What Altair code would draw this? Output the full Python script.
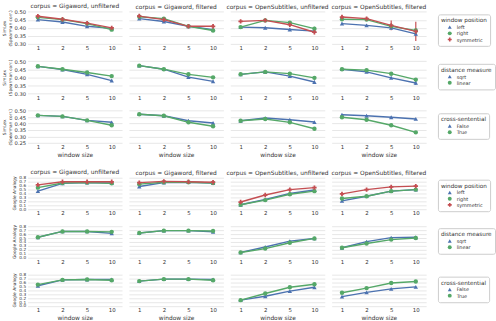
import altair as alt
import pandas as pd

WINDOWS = ["1", "2", "5", "10"]
CORPORA = ["Gigaword, unfiltered", "Gigaword, filtered",
           "OpenSubtitles, unfiltered", "OpenSubtitles, filtered"]

POS_LABELS = ["left", "right", "symmetric"]
DIST_LABELS = ["sqrt", "linear"]
CROSS_LABELS = ["False", "True"]

# ---- SimLex, by window position (one list per corpus, values per window size)
SL_POS_LEFT = [[0.452, 0.437, 0.410, 0.397], [0.458, 0.440, 0.410, 0.389],
               [0.405, 0.401, 0.390, 0.380], [0.427, 0.416, 0.400, 0.363]]
SL_POS_RIGHT = [[0.466, 0.452, 0.427, 0.389], [0.470, 0.458, 0.410, 0.384],
                [0.405, 0.447, 0.433, 0.395], [0.454, 0.452, 0.410, 0.384]]
SL_POS_SYM = [[0.473, 0.454, 0.430, 0.400], [0.474, 0.452, 0.410, 0.410],
              [0.441, 0.447, 0.420, 0.373], [0.468, 0.458, 0.416, 0.378]]
SL_POS_LEFT_ERR = [[0.004, 0.004, 0.004, 0.006], [0.004, 0.004, 0.004, 0.006],
                   [0.005, 0.005, 0.006, 0.010], [0.006, 0.006, 0.008, 0.015]]
SL_POS_RIGHT_ERR = [[0.004, 0.004, 0.004, 0.006], [0.004, 0.004, 0.004, 0.006],
                    [0.005, 0.005, 0.006, 0.012], [0.008, 0.008, 0.010, 0.015]]
SL_POS_SYM_ERR = [[0.004, 0.004, 0.004, 0.006], [0.004, 0.004, 0.004, 0.006],
                  [0.005, 0.006, 0.008, 0.012], [0.010, 0.010, 0.030, 0.060]]

# ---- SimLex, by distance measure
SL_DIST_SQRT = [[0.469, 0.449, 0.419, 0.380], [0.473, 0.451, 0.401, 0.375],
                [0.419, 0.434, 0.408, 0.371], [0.451, 0.434, 0.397, 0.365]]
SL_DIST_LIN = [[0.469, 0.451, 0.430, 0.408], [0.473, 0.451, 0.419, 0.400],
               [0.419, 0.434, 0.423, 0.397], [0.451, 0.445, 0.423, 0.386]]
SL_DIST_SQRT_ERR = [[0.004, 0.004, 0.004, 0.006], [0.004, 0.004, 0.004, 0.006],
                    [0.005, 0.005, 0.006, 0.008], [0.005, 0.005, 0.008, 0.012]]
SL_DIST_LIN_ERR = [[0.004, 0.004, 0.004, 0.006], [0.004, 0.004, 0.004, 0.006],
                   [0.005, 0.005, 0.006, 0.008], [0.005, 0.005, 0.008, 0.010]]

# ---- SimLex, by cross-sentential
SL_CROSS_F = [[0.464, 0.456, 0.425, 0.410], [0.473, 0.461, 0.422, 0.405],
              [0.422, 0.443, 0.430, 0.412], [0.469, 0.461, 0.449, 0.436]]
SL_CROSS_T = [[0.464, 0.456, 0.425, 0.387], [0.473, 0.461, 0.410, 0.379],
              [0.422, 0.436, 0.410, 0.360], [0.449, 0.430, 0.387, 0.332]]

# ---- Google Analogy, by window position
GA_POS_LEFT = [[0.46, 0.66, 0.68, 0.67], [0.58, 0.68, 0.69, 0.67],
               [0.11, 0.25, 0.40, 0.49], [0.21, 0.33, 0.46, 0.50]]
GA_POS_RIGHT = [[0.55, 0.67, 0.68, 0.66], [0.64, 0.69, 0.69, 0.67],
                [0.11, 0.23, 0.38, 0.46], [0.27, 0.33, 0.46, 0.50]]
GA_POS_SYM = [[0.62, 0.70, 0.70, 0.70], [0.68, 0.71, 0.70, 0.69],
              [0.18, 0.36, 0.50, 0.55], [0.39, 0.50, 0.57, 0.59]]

# ---- Google Analogy, by distance measure
GA_DIST_SQRT = [[0.52, 0.67, 0.67, 0.62], [0.63, 0.69, 0.69, 0.66],
                [0.13, 0.27, 0.42, 0.49], [0.25, 0.41, 0.51, 0.52]]
GA_DIST_LIN = [[0.52, 0.67, 0.67, 0.66], [0.63, 0.69, 0.69, 0.68],
               [0.13, 0.23, 0.38, 0.49], [0.25, 0.36, 0.46, 0.50]]

# ---- Google Analogy, by cross-sentential
GA_CROSS_F = [[0.52, 0.67, 0.68, 0.68], [0.64, 0.69, 0.69, 0.68],
              [0.15, 0.25, 0.38, 0.48], [0.24, 0.35, 0.44, 0.49]]
GA_CROSS_T = [[0.55, 0.67, 0.68, 0.66], [0.64, 0.69, 0.69, 0.66],
              [0.15, 0.32, 0.48, 0.56], [0.34, 0.46, 0.59, 0.63]]

SL_TICKS = [0.30, 0.35, 0.40, 0.45, 0.50]
SL3_TICKS = [0.25, 0.30, 0.35, 0.40, 0.45, 0.50]
GA_TICKS = [0.0, 0.1, 0.2, 0.3, 0.4, 0.5, 0.6, 0.7, 0.8]

BLUE, GREEN, RED = "#4C72B0", "#55A868", "#C44E52"
FONT = "DejaVu Sans"
TEXT = "#333333"
PANEL_W = 96


def make_df(labels, series, errs):
    recs = []
    for k, lab in enumerate(labels):
        vals = series[k]
        ev = errs[k] if errs else None
        for ci, corpus in enumerate(CORPORA):
            for wi, w in enumerate(WINDOWS):
                v = vals[ci][wi]
                e = ev[ci][wi] if ev else 0.0
                recs.append(dict(series=lab, corpus=corpus, window=w,
                                 value=v, lo=v - e, hi=v + e))
    return pd.DataFrame(recs)


def panel(df, ci, labels, colors, shapes, legend_title, ydomain, yticks,
          yfmt, ytitle, height, first_row, last_row, ylabel_size):
    corpus = CORPORA[ci]
    base = alt.Chart(df).transform_filter(alt.datum.corpus == corpus)

    xaxis_kw = dict(labelAngle=0, grid=False, domain=False, ticks=False,
                    tickSize=0, labelPadding=1.5, labelFontSize=5.5,
                    labelColor=TEXT, titleFontSize=6, titleColor=TEXT,
                    titleFontWeight="normal", titlePadding=1.5)
    xaxis_kw["title"] = "window size" if last_row else ""
    x = alt.X("window:O", sort=WINDOWS,
              scale=alt.Scale(type="point", padding=0.42),
              axis=alt.Axis(**xaxis_kw))

    yaxis_kw = dict(values=yticks, tickCount=len(yticks) + 5, grid=True,
                    gridColor="#e0e0e0", gridWidth=0.8, domain=False,
                    ticks=False, tickSize=0, labelPadding=2,
                    labelFontSize=ylabel_size, labelColor=TEXT, format=yfmt,
                    labelOverlap=False, titleFontSize=4.4, titleColor=TEXT,
                    titleFontWeight="normal", titlePadding=2,
                    titleLineHeight=5.2, labels=(ci == 0))
    yaxis_kw["title"] = ytitle if ci == 0 else ""
    y = alt.Y("value:Q",
              scale=alt.Scale(domain=ydomain, nice=False, zero=False),
              axis=alt.Axis(**yaxis_kw))

    cscale = alt.Scale(domain=labels, range=colors)
    sscale = alt.Scale(domain=labels, range=shapes)
    if ci == 3:
        leg = alt.Legend(title=legend_title, orient="none", legendX=108,
                         legendY=3, padding=3, strokeColor="#cccccc",
                         cornerRadius=2, fillColor="white", titleFontSize=5.8,
                         titleFontWeight="normal", titleColor=TEXT,
                         labelFontSize=5, labelColor=TEXT, symbolSize=16,
                         rowPadding=0.3, titlePadding=1.2, labelOffset=4,
                         symbolOffset=6)
        color = alt.Color("series:N", scale=cscale, legend=leg)
        shape = alt.Shape("series:N", scale=sscale, legend=leg)
    else:
        color = alt.Color("series:N", scale=cscale, legend=None)
        shape = alt.Shape("series:N", scale=sscale, legend=None)

    layers = []
    for lab, col in zip(labels, colors):
        sub = base.transform_filter(alt.datum.series == lab)
        layers.append(sub.mark_line(strokeWidth=1.4, color=col).encode(x=x, y=y))
        layers.append(sub.mark_rule(strokeWidth=1.2, color=col).encode(
            x=x, y="lo:Q", y2="hi:Q"))
    layers.append(base.mark_point(filled=True, size=20, opacity=1).encode(
        x=x, y=y, color=color, shape=shape))
    props = dict(width=PANEL_W, height=height)
    if first_row:
        props["title"] = alt.TitleParams("corpus = " + corpus, fontSize=6,
                                         fontWeight="normal", color=TEXT,
                                         offset=1, font=FONT)
    return alt.layer(*layers).properties(**props)


def row(df, labels, colors, shapes, legend_title, ydomain, yticks, yfmt,
        ytitle, height, first_row, last_row, ylabel_size):
    return [panel(df, ci, labels, colors, shapes, legend_title, ydomain,
                  yticks, yfmt, ytitle, height, first_row, last_row,
                  ylabel_size)
            for ci in range(4)]


def spacer():
    d = pd.DataFrame({"a": [0.0]})
    return alt.Chart(d).mark_point(opacity=0).encode(
        x=alt.X("a:Q", axis=None), y=alt.Y("a:Q", axis=None)
    ).properties(width=PANEL_W, height=0.5)


SHAPES3 = ["triangle-up", "circle", "cross"]
SHAPES2 = ["triangle-up", "circle"]
SL_TITLE = ["SimLex", "(Spearman corr.)"]
GA_TITLE = "Google Analogy"

df1 = make_df(POS_LABELS, [SL_POS_LEFT, SL_POS_RIGHT, SL_POS_SYM],
              [SL_POS_LEFT_ERR, SL_POS_RIGHT_ERR, SL_POS_SYM_ERR])
df2 = make_df(DIST_LABELS, [SL_DIST_SQRT, SL_DIST_LIN],
              [SL_DIST_SQRT_ERR, SL_DIST_LIN_ERR])
df3 = make_df(CROSS_LABELS, [SL_CROSS_F, SL_CROSS_T], None)
df4 = make_df(POS_LABELS, [GA_POS_LEFT, GA_POS_RIGHT, GA_POS_SYM], None)
df5 = make_df(DIST_LABELS, [GA_DIST_SQRT, GA_DIST_LIN], None)
df6 = make_df(CROSS_LABELS, [GA_CROSS_F, GA_CROSS_T], None)

SL_DOM = [0.297, 0.503]
SL3_DOM = [0.247, 0.503]
GA_DOM = [-0.005, 0.83]

panels = []
panels += row(df1, POS_LABELS, [BLUE, GREEN, RED], SHAPES3, "window position",
              SL_DOM, SL_TICKS, ".2f", SL_TITLE, 33.5, True, False, 5.3)
panels += row(df2, DIST_LABELS, [BLUE, GREEN], SHAPES2, "distance measure",
              SL_DOM, SL_TICKS, ".2f", SL_TITLE, 33.5, False, False, 5.3)
panels += row(df3, CROSS_LABELS, [BLUE, GREEN], SHAPES2, "cross-sentential",
              SL3_DOM, SL3_TICKS, ".2f", SL_TITLE, 33.5, False, True, 5.3)
panels += [spacer() for _ in range(4)]
panels += row(df4, POS_LABELS, [BLUE, GREEN, RED], SHAPES3, "window position",
              GA_DOM, GA_TICKS, ".1f", GA_TITLE, 33, True, False, 4.3)
panels += row(df5, DIST_LABELS, [BLUE, GREEN], SHAPES2, "distance measure",
              GA_DOM, GA_TICKS, ".1f", GA_TITLE, 33, False, False, 4.3)
panels += row(df6, CROSS_LABELS, [BLUE, GREEN], SHAPES2, "cross-sentential",
              GA_DOM, GA_TICKS, ".1f", GA_TITLE, 33, False, True, 4.3)

chart = alt.concat(
    *panels, columns=4, spacing={"row": 16.25, "column": 7}, bounds="flush"
).resolve_scale(
    color="independent", shape="independent",
    x="independent", y="independent"
).properties(
    padding={"left": 2, "top": 0, "right": 0, "bottom": 0}
).configure(font=FONT).configure_view(stroke=None)

chart.save("out.html", embed_options={"renderer": "svg", "actions": False})
